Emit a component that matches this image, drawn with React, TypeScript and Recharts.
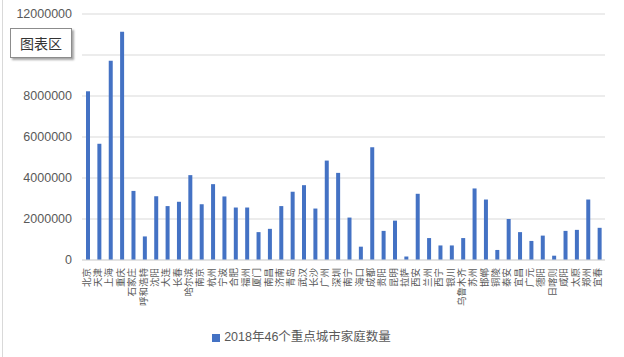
import { BarChart, Bar, XAxis, YAxis, CartesianGrid, Legend } from "recharts";

const cities = [
  "北京", "天津", "上海", "重庆", "石家庄", "呼和浩特", "沈阳", "大连", "长春", "哈尔滨",
  "南京", "杭州", "宁波", "合肥", "福州", "厦门", "南昌", "济南", "青岛", "武汉",
  "长沙", "广州", "深圳", "南宁", "海口", "成都", "贵阳", "昆明", "拉萨", "西安",
  "兰州", "西宁", "银川", "乌鲁木齐", "苏州", "邯郸", "铜陵", "泰安", "宜昌", "广元",
  "德阳", "日喀则", "咸阳", "太原", "郑州", "宜春",
];

const households = [
  8230000, 5670000, 9720000, 11130000, 3370000, 1150000, 3110000, 2630000, 2840000, 4140000,
  2720000, 3700000, 3100000, 2560000, 2560000, 1360000, 1520000, 2630000, 3330000, 3650000,
  2510000, 4850000, 4250000, 2070000, 650000, 5500000, 1420000, 1920000, 170000, 3230000,
  1070000, 710000, 710000, 1070000, 3490000, 2950000, 490000, 2000000, 1360000, 930000,
  1190000, 210000, 1420000, 1470000, 2950000, 1570000,
];

const yTicks = [0, 2000000, 4000000, 6000000, 8000000, 10000000, 12000000];

const seriesName = "2018年46个重点城市家庭数量";

const data = cities.map((c, i) => ({ city: c, value: households[i] }));

const CJK = '"Noto Sans CJK SC", "Noto Sans", sans-serif';
const MIXED = '"Liberation Sans", "Noto Sans CJK SC", sans-serif';

const CityTick = ({ x, y, payload }: any) => (
  <text
    x={x + 2}
    y={y}
    transform={`rotate(-90, ${x + 2}, ${y})`}
    textAnchor="end"
    fontSize={9.5}
    fill="#595959"
    fontFamily={CJK}
  >
    {payload.value}
  </text>
);

// the 10000000 label sits under the "图表区" hover box in the reference
const yLabel = (v: number) => (v === 10000000 ? "" : String(v));

const App = () => {
  return (
    <div style={{ position: "absolute", left: 0, top: 0, width: 624, height: 357, background: "#fff", fontFamily: CJK }}>
      <div style={{ position: "absolute", left: 2, top: 0, width: 1, height: 357, background: "#d9d9d9" }} />
      <BarChart width={624} height={357} data={data} margin={{ top: 14, right: 19, left: 8, bottom: 18 }}>
        <CartesianGrid vertical={false} stroke="#d9d9d9" />
        <XAxis
          dataKey="city"
          interval={0}
          tick={<CityTick />}
          tickLine={false}
          axisLine={{ stroke: "#d9d9d9" }}
          height={60}
        />
        <YAxis
          domain={[0, 12000000]}
          ticks={yTicks}
          width={74}
          axisLine={false}
          tickLine={false}
          tickMargin={4}
          tickFormatter={yLabel}
          tick={{ fill: "#595959", fontSize: 12.5, fontFamily: MIXED }}
        />
        <Legend
          verticalAlign="bottom"
          iconType="square"
          iconSize={8}
          wrapperStyle={{ top: 326, fontSize: 12.5, fontFamily: MIXED }}
          formatter={(v) => <span style={{ color: "#595959" }}>{v}</span>}
        />
        <Bar dataKey="value" name={seriesName} fill="#4472C4" barSize={4} isAnimationActive={false} />
      </BarChart>
      <div
        style={{
          position: "absolute",
          left: 10,
          top: 28,
          width: 60,
          height: 28,
          background: "#fff",
          border: "1px solid #8c8c8c",
          boxShadow: "2px 2px 2px rgba(0,0,0,0.35)",
          fontSize: 14,
          color: "#333",
          lineHeight: "28px",
          textAlign: "center",
        }}
      >
        图表区
      </div>
    </div>
  );
};

export default App;
